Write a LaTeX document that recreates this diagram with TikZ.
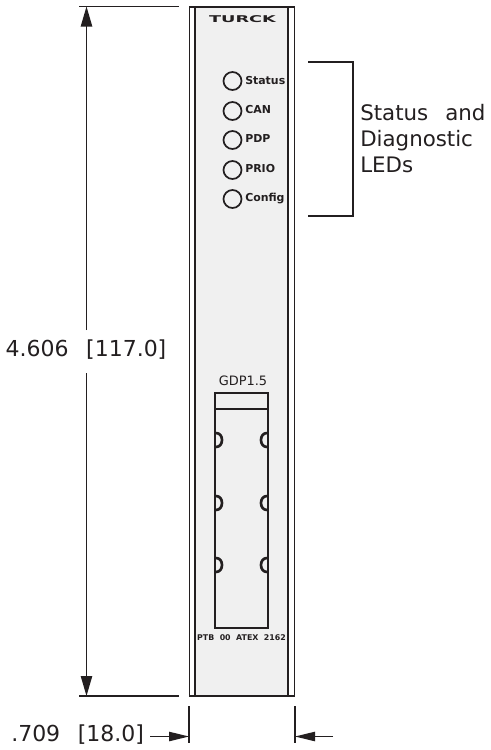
\documentclass[tikz,border=0pt]{standalone}
\usepackage{fontspec}
\setmainfont{DejaVu Sans}
\usetikzlibrary{arrows.meta}
\definecolor{panel}{HTML}{F0F0F0}
\definecolor{ink}{HTML}{231F20}
\tikzset{
 heavy/.style={draw=ink,line width=1.3pt},
 dimline/.style={draw=ink,line width=1pt},
 dimarrow/.style={draw=ink,line width=1pt,-{Triangle[length=15pt,width=8.5pt]}},
 smallarrow/.style={draw=ink,line width=1pt,-{Triangle[length=15pt,width=7pt]}},
 led/.style={circle,draw=ink,line width=1.3pt,fill=panel,minimum size=13.5pt,inner sep=0pt},
 ledtext/.style={anchor=west,inner sep=0pt,text=ink,font=\fontsize{8.2}{8.2}\selectfont\bfseries},
 dimtext/.style={inner sep=0pt,text=ink,font=\fontsize{16.5}{16.5}\selectfont},
 callout/.style={inner sep=0pt,text=ink,align=left,anchor=north west,font=\fontsize{16}{19.5}\selectfont},
}
\begin{document}
\begin{tikzpicture}[x=0.75pt,y=-0.75pt]
\useasboundingbox (0,0) rectangle (491,750);
\fill[white] (0,0) rectangle (491,750);
% module
\fill[panel] (195,7) rectangle (288,696);
\draw[heavy] (189.5,7) rectangle (294.5,696);
\draw[heavy] (195,7) -- (195,696);
\draw[heavy] (288,7) -- (288,696);
\node[inner sep=0pt,text=ink,font=\fontsize{7}{7}\selectfont\bfseries] (logo) at (242.5,19.5) {\scalebox{1.9}[1]{TURCK}};
% LEDs
\node[led] (l1) at (232.5,81) {}; \node[ledtext] (t1) at (245,80.5) {Status};
\node[led] (l2) at (232.5,111) {}; \node[ledtext] (t2) at (245,110) {CAN};
\node[led] (l3) at (232.5,140) {}; \node[ledtext] (t3) at (245,139) {PDP};
\node[led] (l4) at (232.5,170) {}; \node[ledtext] (t4) at (245,168.5) {PRIO};
\node[led] (l5) at (232.5,199) {}; \node[ledtext] (t5) at (245,198.5) {Config};
% bracket
\coordinate (b1) at (308,62); \coordinate (b2) at (353,62);
\coordinate (b3) at (353,216); \coordinate (b4) at (308,216);
\draw[dimline] (b1) -- (b2) -- (b3) -- (b4);
\node[callout] (cap) at (360,104) {Status\hspace{0.8em}and\\Diagnostic\\LEDs};
% slot
\node[inner sep=0pt,text=ink,font=\fontsize{9.7}{9.7}\selectfont] (gdp) at (243,381) {GDP1.5};
\draw[heavy] (215,393) rectangle (268,628);
\draw[heavy] (215,409) -- (268,409);
\foreach \y in {440,503,565}{
  \draw[heavy,line width=2pt] (216,\y-7) .. controls (224,\y-7) and (224,\y+7) .. (216,\y+7);
  \draw[heavy,line width=2pt] (267,\y-7) .. controls (259,\y-7) and (259,\y+7) .. (267,\y+7);
}
\node[inner sep=0pt,text=ink,font=\fontsize{5.9}{5.9}\selectfont\bfseries] (ptb) at (241.5,637.5) {PTB\ \ 00\ \ ATEX\ \ 2162};
% height dimension
\coordinate (ht1) at (79,6.5); \coordinate (ht2) at (179,6.5);
\coordinate (hb1) at (79,696); \coordinate (hb2) at (179,696);
\draw[dimline] (ht1) -- (ht2);
\draw[dimline] (hb1) -- (hb2);
\coordinate (ha) at (86.5,330); \coordinate (hb) at (86.5,373);
\coordinate (hat) at (86.5,6.5); \coordinate (hab) at (86.5,696);
\draw[dimarrow] (ha) -- (hat);
\draw[dimarrow] (hb) -- (hab);
\node[dimtext] (h) at (86,350) {4.606\hspace{0.8em}[117.0]};
% width dimension
\coordinate (w1a) at (189,706); \coordinate (w1b) at (189,743);
\coordinate (w2a) at (295,706); \coordinate (w2b) at (295,743);
\draw[dimline] (w1a) -- (w1b);
\draw[dimline] (w2a) -- (w2b);
\coordinate (wl) at (150,736.5); \coordinate (wr) at (333,736.5);
\coordinate (wle) at (189,736.5); \coordinate (wre) at (295,736.5);
\draw[smallarrow] (wl) -- (wle);
\draw[smallarrow] (wr) -- (wre);
\node[dimtext,anchor=west] (w) at (11,735) {.709\hspace{0.8em}[18.0]};
\end{tikzpicture}
\end{document}
